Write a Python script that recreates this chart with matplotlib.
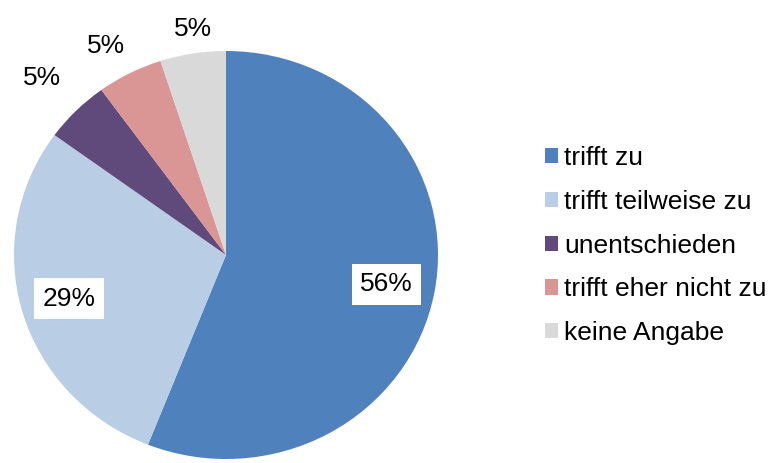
import numpy as np
import matplotlib
matplotlib.use("Agg")
import matplotlib.pyplot as plt
from matplotlib.patches import Rectangle

plt.rcParams['font.family'] = ['Liberation Sans', 'DejaVu Sans']

categories = ["trifft zu", "trifft teilweise zu", "unentschieden",
              "trifft eher nicht zu", "keine Angabe"]
values = [56, 29, 5, 5, 5]
colors = ["#4F81BD", "#B9CDE5", "#604A7B", "#D99694", "#D9D9D9"]

# outer label placement for the small slices (radius, angle offset in deg)
outer_r = [None, None, 1.23, 1.17, 1.12]
outer_da = [0, 0, 0, 2, -1]

fig = plt.figure(figsize=(7.71, 4.63), dpi=100)
ax = fig.add_axes([14 / 771, 4 / 463, 424 / 771, 408 / 463])

wedges, texts, autotexts = ax.pie(values, colors=colors, startangle=90,
                                  counterclock=False, autopct='%d%%',
                                  pctdistance=0.77, radius=1,
                                  wedgeprops=dict(linewidth=0),
                                  textprops=dict(fontsize=19, color='black'))

for w, t, r, da in zip(wedges, autotexts, outer_r, outer_da):
    if r is None:
        t.set_bbox(dict(facecolor='white', edgecolor='none', pad=6))
    else:
        ang = np.deg2rad((w.theta1 + w.theta2) / 2 + da)
        t.set_position((r * np.cos(ang), r * np.sin(ang)))

ax.set_aspect('auto')
ax.set_xlim(-1, 1)
ax.set_ylim(-1, 1)
ax.axis('off')

handles = [Rectangle((0, 0), 1, 1, facecolor=c, edgecolor='none') for c in colors]
fig.legend(handles, categories, loc='upper left',
           bbox_to_anchor=(545 / 771, (463 - 146) / 463), frameon=False,
           fontsize=19, handlelength=0.5, handleheight=0.5,
           handletextpad=0.22, labelspacing=0.75, borderpad=0,
           borderaxespad=0)

fig.savefig("out.png", dpi=100)
